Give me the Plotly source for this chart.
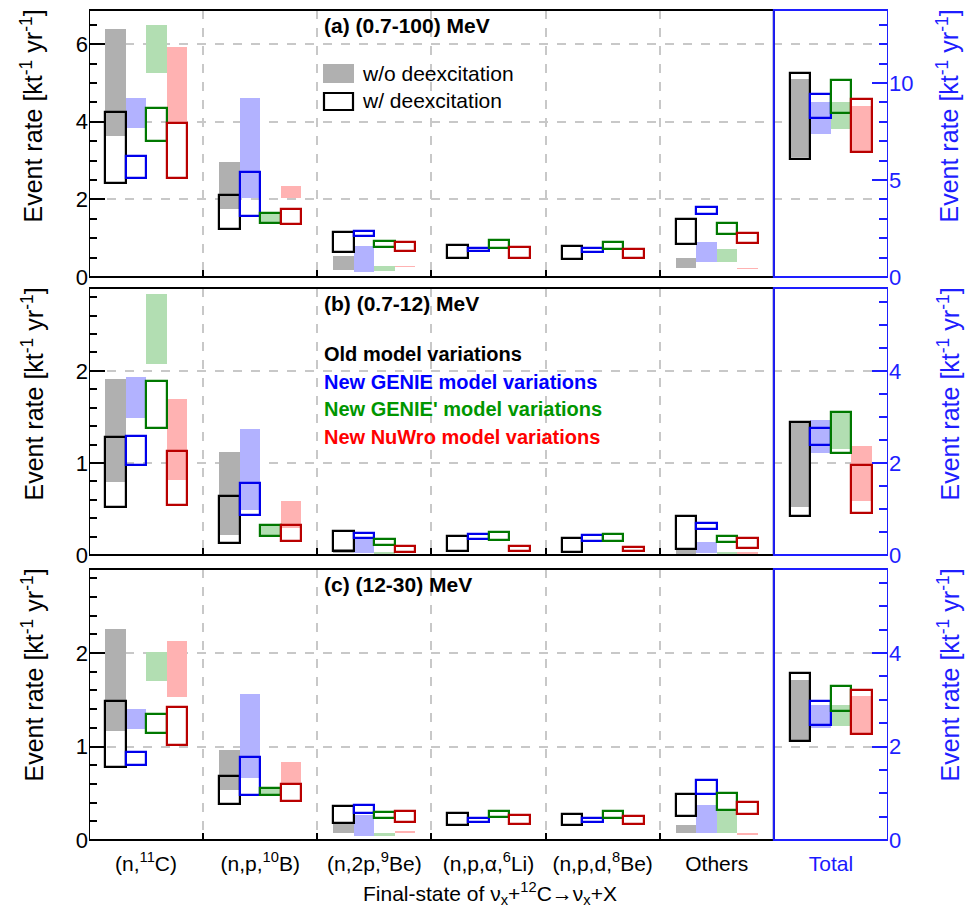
import plotly.graph_objects as go

# ---------------- data ----------------
categories = ["(n,<sup>11</sup>C)", "(n,p,<sup>10</sup>B)", "(n,2p,<sup>9</sup>Be)",
              "(n,p,α,<sup>6</sup>Li)", "(n,p,d,<sup>8</sup>Be)", "Others",
              "<span style='color:#1a1aff'>Total</span>"]
models = ["Old", "New GENIE", "New GENIE'", "New NuWro"]
panel_titles = ["(a) (0.7-100) MeV", "(b) (0.7-12) MeV", "(c) (12-30) MeV"]

# each entry: [low, high]; last entry (Total) is read on the right axis
# ---- panel (a) 0.7-100 MeV ----
a_old_wo    = [[3.63, 6.38], [1.75, 2.97], [0.18, 0.55], [0, 0], [0, 0], [0.24, 0.48], [6.20, 10.20]]
a_old_w     = [[2.41, 4.24], [1.23, 2.11], [0.65, 1.15], [0.48, 0.82], [0.46, 0.81], [0.84, 1.49], [6.07, 10.53]]
a_genie_wo  = [[3.83, 4.62], [2.03, 4.62], [0.14, 0.80], [0, 0], [0, 0], [0.38, 0.91], [7.36, 9.00]]
a_genie_w   = [[2.54, 3.12], [1.58, 2.70], [1.06, 1.19], [0.66, 0.76], [0.65, 0.76], [1.62, 1.81], [8.18, 9.42]]
a_genie2_wo = [[5.25, 6.50], [1.42, 1.63], [0.15, 0.29], [0, 0], [0, 0], [0.38, 0.71], [7.61, 9.00]]
a_genie2_w  = [[3.51, 4.35], [1.40, 1.65], [0.77, 0.94], [0.74, 0.95], [0.71, 0.89], [1.10, 1.40], [8.47, 10.15]]
a_nuwro_wo  = [[3.96, 5.93], [2.03, 2.35], [0.26, 0.28], [0, 0], [0, 0], [0.21, 0.23], [6.46, 8.81]]
a_nuwro_w   = [[2.54, 3.96], [1.36, 1.75], [0.68, 0.91], [0.48, 0.77], [0.48, 0.72], [0.88, 1.13], [6.46, 9.18]]
# ---- panel (b) 0.7-12 MeV ----
b_old_wo    = [[0.79, 1.91], [0.22, 1.12], [0.02, 0.07], [0, 0], [0, 0], [0.01, 0.05], [1.05, 2.88]]
b_old_w     = [[0.52, 1.28], [0.13, 0.64], [0.04, 0.26], [0.04, 0.21], [0.03, 0.19], [0.07, 0.42], [0.85, 2.90]]
b_genie_wo  = [[1.49, 1.93], [0.49, 1.37], [0.02, 0.20], [0, 0], [0, 0], [0.02, 0.14], [2.21, 2.93]]
b_genie_w   = [[0.98, 1.29], [0.43, 0.78], [0.19, 0.24], [0.17, 0.23], [0.15, 0.22], [0.28, 0.35], [2.39, 2.75]]
b_genie2_wo = [[2.08, 2.84], [0.22, 0.32], [0.01, 0.03], [0, 0], [0, 0], [0.01, 0.03], [2.30, 3.08]]
b_genie2_w  = [[1.38, 1.89], [0.21, 0.33], [0.11, 0.17], [0.16, 0.25], [0.15, 0.23], [0.14, 0.21], [2.21, 3.10]]
b_nuwro_wo  = [[0.82, 1.69], [0.29, 0.59], [0, 0], [0, 0], [0, 0], [0.02, 0.03], [1.18, 2.37]]
b_nuwro_w   = [[0.54, 1.13], [0.15, 0.33], [0.03, 0.10], [0.04, 0.10], [0.04, 0.09], [0.08, 0.18], [0.91, 1.96]]
# ---- panel (c) 12-30 MeV ----
c_old_wo    = [[1.17, 2.26], [0.53, 0.96], [0.08, 0.17], [0, 0], [0, 0], [0.07, 0.16], [2.12, 3.43]]
c_old_w     = [[0.78, 1.49], [0.38, 0.69], [0.18, 0.36], [0.16, 0.29], [0.16, 0.28], [0.26, 0.49], [2.12, 3.57]]
c_genie_wo  = [[1.19, 1.40], [0.66, 1.56], [0.04, 0.27], [0, 0], [0, 0], [0.08, 0.37], [2.39, 2.88]]
c_genie_w   = [[0.80, 0.94], [0.48, 0.89], [0.29, 0.37], [0.19, 0.24], [0.19, 0.24], [0.49, 0.64], [2.47, 2.97]]
c_genie2_wo = [[1.70, 2.01], [0.49, 0.55], [0.04, 0.08], [0, 0], [0, 0], [0.08, 0.31], [2.44, 2.88]]
c_genie2_w  = [[1.14, 1.35], [0.48, 0.56], [0.24, 0.30], [0.25, 0.31], [0.24, 0.31], [0.32, 0.50], [2.76, 3.29]]
c_nuwro_wo  = [[1.53, 2.13], [0.59, 0.83], [0.08, 0.10], [0, 0], [0, 0], [0.06, 0.07], [2.26, 3.08]]
c_nuwro_w   = [[1.02, 1.42], [0.42, 0.60], [0.19, 0.31], [0.17, 0.27], [0.17, 0.26], [0.28, 0.41], [2.26, 3.22]]

left_ranges = [6.88, 2.9, 2.9]
left_dtick = [2, 1, 1]
left_minor = [0.5, 0.2, 0.2]
right_dtick = [5, 2, 2]
right_minor = [1, 0.5, 0.5]

# ---------------- styling ----------------
FILL = ["rgb(176,176,176)", "rgb(178,178,255)", "rgb(178,222,178)", "rgb(255,178,178)"]
LINE = ["rgb(0,0,0)", "rgb(0,0,235)", "rgb(0,120,0)", "rgb(185,0,0)"]
TEXTC = ["black", "rgb(0,0,255)", "rgb(0,150,0)", "rgb(255,0,0)"]
BLUE = "rgb(30,30,255)"
OFFS = [-0.27, -0.09, 0.09, 0.27]
BW = 0.18
FONT = "Liberation Sans, Arial, sans-serif"

panels = [
    [(a_old_wo, a_old_w), (a_genie_wo, a_genie_w), (a_genie2_wo, a_genie2_w), (a_nuwro_wo, a_nuwro_w)],
    [(b_old_wo, b_old_w), (b_genie_wo, b_genie_w), (b_genie2_wo, b_genie2_w), (b_nuwro_wo, b_nuwro_w)],
    [(c_old_wo, c_old_w), (c_genie_wo, c_genie_w), (c_genie2_wo, c_genie2_w), (c_nuwro_wo, c_nuwro_w)],
]

# pixel helpers for layout (plot area 89..888 x, 10..840 y)
L, R, T, B = 89, 888, 10, 840
def pxx(px):
    return (px - L) / (R - L)
def pxy(py):
    return (B - py) / (B - T)

domains = [[pxy(277), pxy(10)], [pxy(555), pxy(288)], [pxy(840), pxy(569)]]
tops_px = [10, 288, 569]

fig = go.Figure()

for p in range(3):
    xa = "x" if p == 0 else f"x{p+1}"
    yl = "y" if p == 0 else f"y{2*p+1}"
    yr = f"y{2*p+2}"
    for kind in (0, 1):  # 0: w/o deexcitation (filled), 1: w/ deexcitation (open)
        for m in range(4):
            d = panels[p][m][kind]
            xs = [i + OFFS[m] for i in range(6)]
            base = [v[0] for v in d[:6]]
            hgt = [v[1] - v[0] for v in d[:6]]
            if kind == 0:
                mk = dict(color=FILL[m], line=dict(width=0))
            else:
                mk = dict(color="rgba(0,0,0,0)", line=dict(color=LINE[m], width=2.2))
            fig.add_trace(go.Bar(x=xs, y=hgt, base=base, width=BW, marker=mk,
                                 xaxis=xa, yaxis=yl, showlegend=False, hoverinfo="skip"))
            fig.add_trace(go.Bar(x=[6 + OFFS[m]], y=[d[6][1] - d[6][0]], base=[d[6][0]],
                                 width=BW, marker=mk, xaxis=xa, yaxis=yr,
                                 showlegend=False, hoverinfo="skip"))

layout = dict(
    width=974, height=915,
    margin=dict(l=L, r=974 - R, t=T, b=915 - B, autoexpand=False),
    paper_bgcolor="white", plot_bgcolor="white",
    barmode="overlay", bargap=0,
    font=dict(family=FONT, size=21, color="black"),
    showlegend=False,
)

shapes = []
annotations = []
for p in range(3):
    xk = "xaxis" if p == 0 else f"xaxis{p+1}"
    ylk = "yaxis" if p == 0 else f"yaxis{2*p+1}"
    yrk = f"yaxis{2*p+2}"
    yl = "y" if p == 0 else f"y{2*p+1}"
    xa = "x" if p == 0 else f"x{p+1}"
    layout[xk] = dict(
        domain=[0, 1], anchor=yl, range=[-0.5, 6.5],
        tickmode="array", tickvals=list(range(7)),
        ticktext=categories, showticklabels=(p == 2), ticks="",
        ticklabelstandoff=9, automargin=False,
        tickfont=dict(size=21, family=FONT),
        showgrid=False, zeroline=False, showline=False,
        minor=dict(tickmode="array", tickvals=[0.5, 1.5, 2.5, 3.5, 4.5],
                   showgrid=True, gridcolor="rgb(200,200,200)", griddash="dash",
                   gridwidth=1.5, ticks="inside", ticklen=7, tickcolor="black", tickwidth=1.5),
    )
    layout[ylk] = dict(
        domain=domains[p], anchor=xa, range=[0, left_ranges[p]], automargin=False,
        tick0=0, dtick=left_dtick[p], ticks="inside", ticklen=16, tickwidth=1.5,
        tickcolor="black", tickfont=dict(size=22, family=FONT),
        showgrid=True, gridcolor="rgb(200,200,200)", griddash="dash", gridwidth=1.5,
        zeroline=False, showline=False,
        minor=dict(ticks="inside", ticklen=8, dtick=left_minor[p], tick0=0,
                   tickcolor="black", tickwidth=1.5, showgrid=False),
    )
    layout[yrk] = dict(
        domain=domains[p], anchor=xa, overlaying=yl, side="right",
        range=[0, 2 * left_ranges[p]], automargin=False,
        tick0=0, dtick=right_dtick[p], ticks="inside", ticklen=16, tickwidth=1.5,
        tickcolor=BLUE, tickfont=dict(size=22, family=FONT, color=BLUE),
        showgrid=False, zeroline=False, showline=False,
        minor=dict(ticks="inside", ticklen=9, dtick=right_minor[p], tick0=0,
                   tickcolor=BLUE, tickwidth=1.5, showgrid=False),
    )
    # frames
    shapes.append(dict(type="rect", xref=xa, yref=f"{yl} domain", x0=-0.5, x1=5.5, y0=0, y1=1,
                       line=dict(color="black", width=2), layer="above"))
    shapes.append(dict(type="rect", xref=xa, yref=f"{yl} domain", x0=5.5, x1=6.5, y0=0, y1=1,
                       line=dict(color=BLUE, width=2), layer="above"))
    # panel title
    annotations.append(dict(text=f"<b>{panel_titles[p]}</b>", xref="paper", yref="paper",
                            x=pxx(322), y=pxy(tops_px[p] + 15), xanchor="left", yanchor="middle",
                            showarrow=False, font=dict(size=21, color="black")))
    # y titles (aligned to top of axis)
    annotations.append(dict(text="Event rate [kt<sup>-1</sup> yr<sup>-1</sup>]", xref="paper", yref="paper",
                            x=pxx(32), y=pxy(tops_px[p] - 2), xanchor="center", yanchor="top",
                            textangle=-90, showarrow=False, font=dict(size=25, color="black")))
    annotations.append(dict(text="Event rate [kt<sup>-1</sup> yr<sup>-1</sup>]", xref="paper", yref="paper",
                            x=pxx(948), y=pxy(tops_px[p] - 2), xanchor="center", yanchor="top",
                            textangle=-90, showarrow=False, font=dict(size=25, color=BLUE)))

# legend of panel (a)
shapes.append(dict(type="rect", xref="paper", yref="paper", x0=pxx(323), x1=pxx(354),
                   y0=pxy(83), y1=pxy(64), fillcolor=FILL[0], line=dict(width=0)))
shapes.append(dict(type="rect", xref="paper", yref="paper", x0=pxx(324), x1=pxx(353),
                   y0=pxy(110), y1=pxy(93), fillcolor="rgba(0,0,0,0)", line=dict(color="black", width=2.2)))
annotations.append(dict(text="w/o deexcitation", xref="paper", yref="paper", x=pxx(360), y=pxy(73),
                        xanchor="left", yanchor="middle", showarrow=False, font=dict(size=21)))
annotations.append(dict(text="w/ deexcitation", xref="paper", yref="paper", x=pxx(360), y=pxy(100),
                        xanchor="left", yanchor="middle", showarrow=False, font=dict(size=21)))

# model variation texts in panel (b)
for m, ypx in zip(range(4), [354, 382, 409, 437]):
    annotations.append(dict(text=f"<b>{models[m]} model variations</b>", xref="paper", yref="paper",
                            x=pxx(322), y=pxy(ypx), xanchor="left", yanchor="middle",
                            showarrow=False, font=dict(size=20, color=TEXTC[m])))

# x title
annotations.append(dict(text="Final-state of ν<sub>x</sub>+<sup>12</sup>C→ν<sub>x</sub>+X",
                        xref="paper", yref="paper", x=pxx(490), y=pxy(893),
                        xanchor="center", yanchor="middle", showarrow=False, font=dict(size=21)))

layout["shapes"] = shapes
layout["annotations"] = annotations
fig.update_layout(**layout)
fig.write_html("out.html", config={"displayModeBar": False},
               post_script="document.body.style.margin='0';")
